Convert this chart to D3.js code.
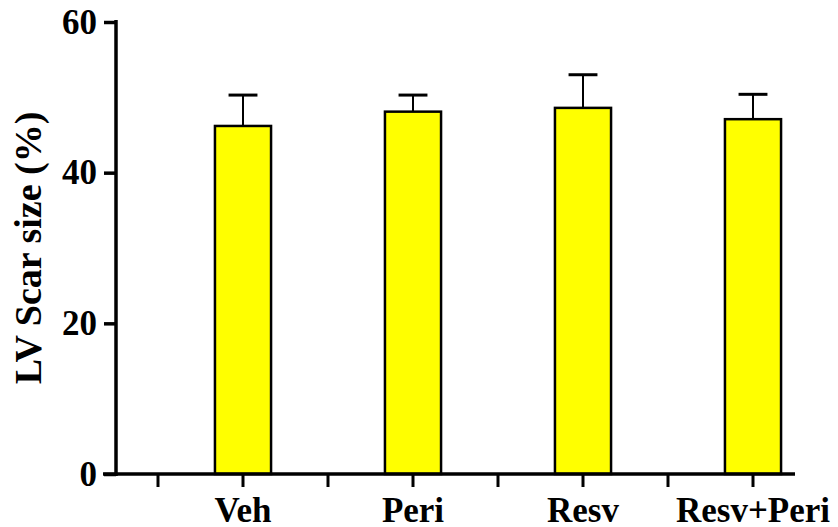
<!DOCTYPE html>
<html>
<head>
<meta charset="utf-8">
<script src="https://cdn.jsdelivr.net/npm/d3@7"></script>
<style>
  html, body { margin: 0; padding: 0; background: #fff; }
  svg { display: block; }
  text { font-family: "Liberation Serif", "Times New Roman", serif; font-weight: bold; fill: #000; }
</style>
</head>
<body>
<svg id="chart" width="838" height="527"></svg>
<script>
// Group names, mean scar size and SEM per group
const categories = ["Veh", "Peri", "Resv", "Resv+Peri"];
const meanValues = [46.2, 48.1, 48.6, 47.1];
const semValues = [4.1, 2.2, 4.4, 3.3];
const yTickValues = [0, 20, 40, 60];
const yLabel = "LV Scar size (%)";

const svg = d3.select("#chart");

const y = d3.scaleLinear().domain([0, 60]).range([474, 22]);
const x = d3.scaleBand().domain(categories).range([158, 838]).padding(0);
const barW = x.bandwidth() * 0.33;
const capW = x.bandwidth() * 0.17;

const data = categories.map((c, i) => ({ cat: c, mean: meanValues[i], sem: semValues[i] }));

// Error bars (upper only), drawn behind the bars
const eb = svg.append("g");
eb.selectAll("line.stem").data(data).join("line")
  .attr("x1", d => x(d.cat) + x.bandwidth() / 2)
  .attr("x2", d => x(d.cat) + x.bandwidth() / 2)
  .attr("y1", d => y(d.mean))
  .attr("y2", d => y(d.mean + d.sem))
  .attr("stroke", "#000").attr("stroke-width", 2);
eb.selectAll("line.cap").data(data).join("line")
  .attr("x1", d => x(d.cat) + x.bandwidth() / 2 - capW / 2)
  .attr("x2", d => x(d.cat) + x.bandwidth() / 2 + capW / 2)
  .attr("y1", d => y(d.mean + d.sem))
  .attr("y2", d => y(d.mean + d.sem))
  .attr("stroke", "#000").attr("stroke-width", 3);

// Bars
svg.append("g").selectAll("rect").data(data).join("rect")
  .attr("x", d => x(d.cat) + x.bandwidth() / 2 - barW / 2)
  .attr("width", barW)
  .attr("y", d => y(d.mean))
  .attr("height", d => y(0) - y(d.mean))
  .attr("fill", "#ffff00")
  .attr("stroke", "#000")
  .attr("stroke-width", 2.5);

// Y axis
const yAxis = d3.axisLeft(y).tickValues(yTickValues).tickSize(12).tickPadding(7).tickFormat(d3.format("d"));
const gy = svg.append("g").attr("transform", "translate(116,0)").call(yAxis);
gy.select(".domain").remove();
gy.selectAll(".tick line").attr("stroke", "#000").attr("stroke-width", 3.5);
gy.selectAll(".tick text")
  .style("font-family", "'Liberation Serif', 'Times New Roman', serif")
  .style("font-weight", "bold")
  .style("font-size", "35px")
  .attr("fill", "#000");
svg.append("line")
  .attr("x1", 116).attr("x2", 116)
  .attr("y1", y(60) - 2).attr("y2", y(0) + 2)
  .attr("stroke", "#000").attr("stroke-width", 3.5);

// X axis: labelled ticks at group centres, plain ticks at group boundaries
const xAxis = d3.axisBottom(x).tickSize(13).tickPadding(10);
const gx = svg.append("g").attr("transform", `translate(0,${y(0)})`).call(xAxis);
gx.select(".domain").remove();
gx.selectAll(".tick line").attr("stroke", "#000").attr("stroke-width", 3);
gx.selectAll(".tick text")
  .style("font-family", "'Liberation Serif', 'Times New Roman', serif")
  .style("font-weight", "bold")
  .style("font-size", "35px")
  .attr("fill", "#000");
gx.selectAll("line.minor").data(categories).join("line")
  .attr("class", "minor")
  .attr("x1", d => x(d)).attr("x2", d => x(d))
  .attr("y1", 0).attr("y2", 13)
  .attr("stroke", "#000").attr("stroke-width", 3);
svg.append("line")
  .attr("x1", 103).attr("x2", 795)
  .attr("y1", y(0)).attr("y2", y(0))
  .attr("stroke", "#000").attr("stroke-width", 3.5);

// Y axis title
svg.append("text")
  .attr("transform", `translate(41,${(y(0) + y(60)) / 2}) rotate(-90)`)
  .attr("text-anchor", "middle")
  .style("font-size", "38px")
  .text(yLabel);
</script>
</body>
</html>
